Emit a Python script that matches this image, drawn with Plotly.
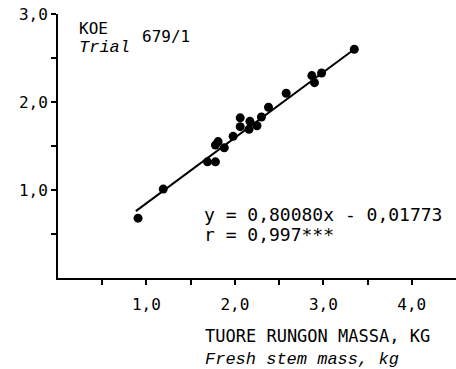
import plotly.graph_objects as go

# Data
stem_mass = [0.905, 1.19, 1.69, 1.78, 1.78, 1.81, 1.88, 1.98, 2.06, 2.06, 2.16, 2.17,
             2.25, 2.30, 2.38, 2.58, 2.87, 2.90, 2.98, 3.35]
koe_value = [0.68, 1.01, 1.32, 1.32, 1.51, 1.55, 1.48, 1.61, 1.82, 1.72, 1.69, 1.78,
             1.73, 1.83, 1.94, 2.10, 2.30, 2.22, 2.33, 2.60]
fit_x = [0.88, 3.35]
fit_y = [0.76, 2.60]

x_ticks = [0.5, 1.0, 1.5, 2.0, 2.5, 3.0, 3.5, 4.0]
x_labels = ["", "1,0", "", "2,0", "", "3,0", "", "4,0"]
y_ticks = [0.5, 1.0, 1.5, 2.0, 2.5, 3.0]
y_labels = ["", "1,0", "", "2,0", "", "3,0"]

MONO = "DejaVu Sans Mono"
ITAL = "Liberation Mono"

fig = go.Figure()
fig.add_trace(go.Scatter(x=fit_x, y=fit_y, mode="lines",
                         line=dict(color="black", width=2), hoverinfo="skip"))
fig.add_trace(go.Scatter(x=stem_mass, y=koe_value, mode="markers",
                         marker=dict(color="black", size=9)))

axis_common = dict(showgrid=False, zeroline=False, showline=True, linecolor="black",
                   linewidth=2, ticks="outside", tickcolor="black", tickwidth=2, ticklen=5,
                   automargin=False, ticklabeloverflow="allow",
                   tickfont=dict(family=MONO, size=16, color="black"))
fig.update_xaxes(range=[0, 4.5], tickmode="array", tickvals=x_ticks, ticktext=x_labels,
                 ticklabelstandoff=6, **axis_common)
fig.update_yaxes(range=[0, 3.0], tickmode="array", tickvals=y_ticks, ticktext=y_labels,
                 **axis_common)

def ann(text, x, y, xref="x", yref="y", italic=False, size=17):
    fig.add_annotation(text=text, x=x, y=y, xref=xref, yref=yref, showarrow=False,
                       xanchor="left", yanchor="middle",
                       font=dict(family=ITAL if italic else MONO, size=size, color="black",
                                 style="italic" if italic else "normal"))

ann("KOE", 0.215, 2.84, size=16)
ann("Trial", 0.215, 2.625, italic=True)
ann("679/1", 0.927, 2.74, size=16)
ann("y = 0,80080x - 0,01773", 1.628, 0.716, size=18)
ann("r = 0,997***", 1.628, 0.489, size=18)
ann("TUORE RUNGON MASSA, KG", 0.364, -0.2197, xref="paper", yref="paper")
ann("Fresh stem mass, kg", 0.364, -0.307, xref="paper", yref="paper", italic=True)

fig.update_layout(width=456, height=369, showlegend=False,
                  margin=dict(l=58, r=0, t=14, b=91),
                  plot_bgcolor="white", paper_bgcolor="white")
fig.write_html("out.html",
               config={"displayModeBar": False},
               post_script="document.body.style.margin='0';"
                           "document.body.style.overflow='hidden';")
